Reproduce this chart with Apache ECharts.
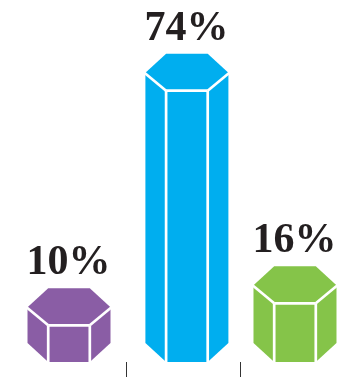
<!DOCTYPE html>
<html>
<head>
<meta charset="utf-8">
<style>html,body{margin:0;padding:0;background:#fff}#c{width:339px;height:379px}</style>
<script src="https://cdn.jsdelivr.net/npm/echarts@6/dist/echarts.min.js"></script>
</head>
<body>
<div id="c"></div>
<script>
// Share of each group, drawn as hexagonal prisms
const shares = [10, 74, 16];
const shareLabels = ['10%', '74%', '16%'];
const slots = [0.5, 1.534, 2.482];
const fills = ['#8a5da5', '#00aeef', '#85c449'];
const dividers = [1, 2];

const chart = echarts.init(document.getElementById('c'), null, { renderer: 'canvas' });

const OUTER = 41.5, FRONT = 20.8, CHAMFER = 19;

function renderPrism(params, api) {
  const i = params.dataIndex;
  const [cx, frontTop] = api.coord([api.value(0), api.value(1)]);
  const [, base] = api.coord([api.value(0), 0]);
  const capTop = frontTop - 2 * CHAMFER + 1;
  const mid = frontTop - CHAMFER + 1;
  const outline = [
    [cx - FRONT, capTop], [cx + FRONT, capTop], [cx + OUTER, mid],
    [cx + OUTER, base - CHAMFER], [cx + FRONT, base], [cx - FRONT, base],
    [cx - OUTER, base - CHAMFER], [cx - OUTER, mid]
  ];
  const edge = (x1, y1, x2, y2) => ({
    type: 'line',
    shape: { x1, y1, x2, y2 },
    style: { stroke: '#fff', lineWidth: 2.7 }
  });
  return {
    type: 'group',
    children: [
      { type: 'polygon', shape: { points: outline }, style: { fill: fills[i] } },
      edge(cx - OUTER - 1, mid, cx - FRONT, frontTop),
      edge(cx + OUTER + 1, mid, cx + FRONT, frontTop),
      edge(cx - FRONT, frontTop, cx + FRONT, frontTop),
      edge(cx - FRONT, frontTop, cx - FRONT, base + 1),
      edge(cx + FRONT, frontTop, cx + FRONT, base + 1),
      {
        type: 'text',
        style: {
          text: shareLabels[i],
          x: cx - 0.5,
          y: capTop - 25,
          fill: '#231f20',
          font: 'bold 42px "Liberation Serif", serif',
          align: 'center',
          verticalAlign: 'middle'
        }
      }
    ]
  };
}

chart.setOption({
  animation: false,
  grid: { left: 12, right: 0, top: 32, bottom: 17 },
  xAxis: {
    type: 'value',
    min: 0,
    max: 2.868,
    offset: 2,
    splitLine: { show: false },
    axisLine: { show: false },
    axisLabel: { show: false },
    axisTick: {
      show: true,
      customValues: dividers,
      length: 15,
      lineStyle: { color: '#333', width: 1 }
    }
  },
  yAxis: { type: 'value', min: 0, max: 90, show: false },
  series: [{
    type: 'custom',
    renderItem: renderPrism,
    encode: { x: 0, y: 1 },
    clip: false,
    data: shares.map((v, i) => [slots[i], v])
  }]
});
</script>
</body>
</html>
